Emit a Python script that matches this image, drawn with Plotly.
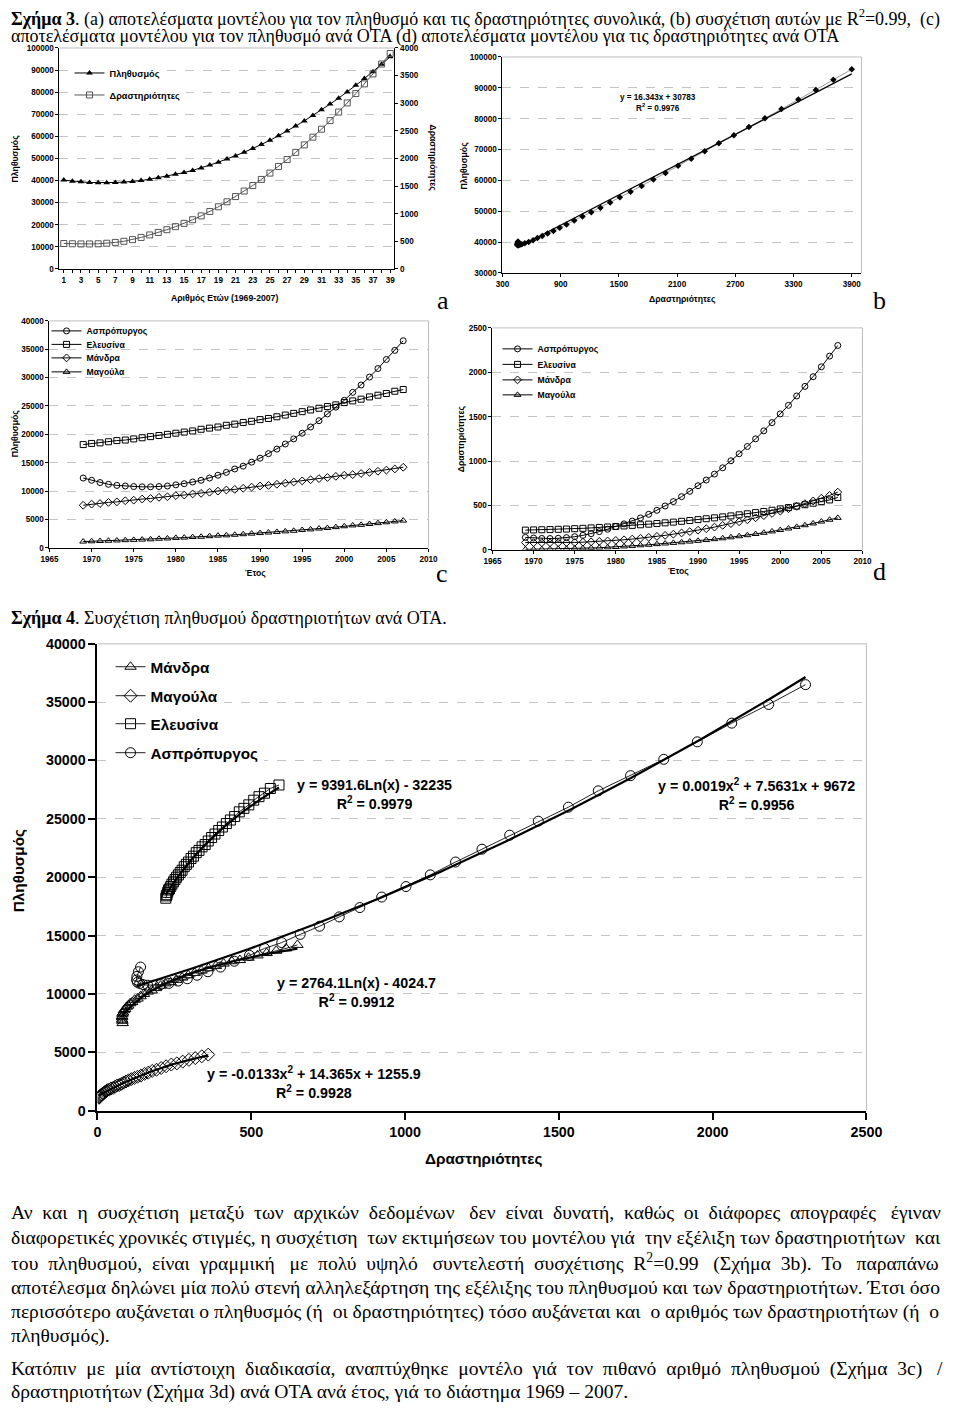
import numpy as np
import plotly.graph_objects as go

W, H = 960, 1412
# measured mapping between figure pixels and the photographed picture:
# picture_x = 8.5 + 0.974 * fig_x ; picture_y = 7 + 0.989 * fig_y
SX, OX, SY, OY = 0.974, 8.5, 0.989, 7.0
FS = 1.02          # font compensation for that slight shrink
SANS = "Liberation Sans, Arial, sans-serif"
SERIF = "Liberation Serif, Times New Roman, serif"
NBSP = "\u00a0"

# ------------------------------------------------------------------ data
# Fig. 3a / 3b : totals, year index 1..39 (1969-2007)
year_index = list(range(1, 40))
total_population = [40200, 39700, 39400, 39100, 39000, 39000, 39100, 39300, 39600, 40000,
                    40600, 41300, 42000, 42800, 43600, 44600, 45700, 47000, 48300, 49700,
                    51100, 52800, 54500, 56300, 58200, 60300, 62400, 64700, 67000, 69400,
                    72000, 74600, 77300, 80100, 83100, 86200, 89300, 92600, 96000]
total_activities = [460, 455, 452, 452, 455, 465, 480, 500, 530, 570,
                    615, 660, 710, 765, 825, 890, 960, 1040, 1125, 1215,
                    1310, 1410, 1510, 1620, 1735, 1855, 1980, 2110, 2245, 2385,
                    2530, 2685, 2840, 3005, 3175, 3350, 3530, 3710, 3900]
total_fit = [16.343, 30783]

# Fig. 3c / 3d : per municipality, 1969-2007
years = list(range(1969, 2008))
pop_aspropyrgos = [12300, 11900, 11500, 11200, 11000, 10900, 10800, 10750, 10750, 10800, 10900,
                   11100, 11300, 11600, 11900, 12300, 12800, 13300, 13900, 14400, 15100,
                   15800, 16600, 17400, 18300, 19200, 20200, 21300, 22400, 23600, 24800,
                   26000, 27400, 28700, 30100, 31600, 33200, 34800, 36500]
pop_elefsina = [18200, 18400, 18500, 18700, 18900, 19000, 19200, 19400, 19600, 19800, 20000,
                20200, 20400, 20600, 20900, 21100, 21300, 21600, 21800, 22100, 22300,
                22600, 22800, 23100, 23400, 23700, 24000, 24300, 24600, 24900, 25200,
                25600, 25900, 26200, 26600, 26900, 27200, 27600, 27900]
pop_mandra = [7500, 7700, 7800, 8000, 8100, 8300, 8400, 8600, 8700, 8900, 9000,
              9200, 9300, 9500, 9600, 9800, 10000, 10200, 10300, 10500, 10700,
              10900, 11000, 11200, 11400, 11600, 11800, 12000, 12200, 12400, 12600,
              12800, 12900, 13100, 13300, 13500, 13700, 13900, 14200]
pop_magoula = [1100, 1150, 1200, 1250, 1300, 1350, 1400, 1450, 1500, 1600, 1650,
               1750, 1800, 1900, 1950, 2050, 2150, 2200, 2300, 2400, 2500,
               2600, 2700, 2800, 2900, 3000, 3150, 3250, 3400, 3500, 3650,
               3800, 3950, 4050, 4200, 4350, 4500, 4650, 4800]

act_aspropyrgos = [140, 133, 128, 127, 130, 137, 148, 163, 182, 205, 232,
                   262, 292, 324, 359, 400, 445, 494, 543, 599, 659,
                   722, 786, 853, 924, 1003, 1082, 1164, 1250, 1340, 1433,
                   1531, 1628, 1733, 1841, 1950, 2062, 2182, 2302]
act_elefsina = [222, 224, 226, 228, 231, 234, 238, 242, 247, 252, 257,
                263, 269, 275, 282, 289, 296, 304, 312, 321, 330,
                340, 350, 360, 371, 382, 394, 406, 419, 432, 446,
                461, 476, 492, 508, 525, 543, 562, 590]
act_mandra = [82, 81, 80, 80, 80, 81, 83, 86, 90, 95, 100,
              106, 113, 121, 130, 140, 151, 163, 176, 190, 205,
              221, 238, 256, 275, 295, 316, 338, 361, 385, 410,
              436, 463, 491, 520, 550, 581, 613, 650]
act_magoula = [5, 6, 7, 8, 10, 12, 15, 18, 21, 24, 28,
               32, 38, 44, 51, 57, 64, 71, 78, 85, 93,
               101, 110, 120, 130, 141, 153, 165, 178, 192, 207,
               223, 240, 258, 277, 297, 318, 339, 360]

# Fig. 4 trend-line coefficients
fit_elefsina_log = [9391.6, -32235]
fit_mandra_log = [2764.1, -4024.7]
fit_aspropyrgos_quad = [0.0019, 7.5631, 9672]
fit_magoula_quad = [-0.0133, 14.365, 1255.9]

# ------------------------------------------------------------------ helpers
def fx(x):                       # picture x -> figure pixel x
    return min(max((x - OX) / SX, 0.0), W)


def fy(y):                       # picture y -> figure pixel y
    return min(max((y - OY) / SY, 0.0), H)


def px(x):
    return fx(x) / W


def py(y):
    return 1 - fy(y) / H


def xd(l, r):
    return [px(l), px(r)]


def yd(t, b):
    return [py(b), py(t)]


annotations = []
shapes = []


def add_text(text, x, y, size, family=SANS, bold=False, xanchor="center",
             yanchor="middle", angle=0, align="center", raw=False):
    xx = x / W if raw else px(x)
    yy = 1 - y / H if raw else py(y)
    annotations.append(dict(
        text=text, x=xx, y=yy, xref="paper", yref="paper",
        showarrow=False, xanchor=xanchor, yanchor=yanchor, textangle=angle,
        align=align, borderpad=0,
        font=dict(family=family, size=size, color="black",
                  weight="bold" if bold else "normal")))


def justify(line, n_extra):
    """spread n_extra non-breaking spaces over the word gaps of a line"""
    words = line.split(" ")
    gaps = len(words) - 1
    if gaps <= 0 or n_extra <= 0:
        return line
    out = words[0]
    for i, w in enumerate(words[1:]):
        k = (n_extra * (i + 1)) // gaps - (n_extra * i) // gaps
        out += " " + NBSP * k + w
    return out


def axis(domain, anchor, rng, size, dtick=None, tickvals=None, minorvals=None,
         grid=False, lw=1, ticklen=3, tickwidth=1, side=None, overlaying=None):
    d = dict(anchor=anchor, range=rng, showline=True, linecolor="black",
             linewidth=lw, ticks="outside", ticklen=ticklen, tickwidth=tickwidth,
             tickcolor="black", tickformat="d",
             tickfont=dict(family=SANS, size=size * FS, color="black", weight="bold"),
             showgrid=grid, gridcolor="#c4c4c4", griddash="dash", gridwidth=1,
             zeroline=False, fixedrange=True)
    if domain is not None:
        d["domain"] = domain
    if dtick is not None:
        d.update(tickmode="linear", tick0=rng[0], dtick=dtick)
    if tickvals is not None:
        d.update(tickmode="array", tickvals=tickvals)
    if minorvals is not None:
        d["minor"] = dict(tickmode="array", tickvals=minorvals, ticks="outside",
                          ticklen=ticklen, tickcolor="black", showgrid=False)
    if side:
        d["side"] = side
    if overlaying:
        d["overlaying"] = overlaying
    return d


def border(xl, xr, yt, yb, top=True, right=True):
    if top:
        shapes.append(dict(type="line", xref="paper", yref="paper",
                           x0=px(xl), x1=px(xr), y0=py(yt), y1=py(yt),
                           line=dict(color="#bdbdbd", width=1)))
    if right:
        shapes.append(dict(type="line", xref="paper", yref="paper",
                           x0=px(xr), x1=px(xr), y0=py(yb), y1=py(yt),
                           line=dict(color="#bdbdbd", width=1)))


def legend_box(text_x, y, size, bg="rgba(0,0,0,0)"):
    return dict(x=(fx(text_x) - 40) / W, y=py(y), xanchor="left", yanchor="middle",
                bgcolor=bg, borderwidth=0, tracegroupgap=0,
                font=dict(family=SANS, size=size * FS, color="black", weight="bold"))


fig = go.Figure()
layout = {}

# ------------------------------------------------------------------ Fig 3a
A = dict(l=59, r=394, t=47, b=268)
layout["xaxis"] = axis(xd(A["l"], A["r"]), "y", [0.5, 39.5], 8,
                       tickvals=[v for v in year_index if v % 2],
                       minorvals=[v for v in year_index if v % 2 == 0])
layout["yaxis"] = axis(yd(A["t"], A["b"]), "x", [0, 100000], 8, dtick=10000, grid=True)
layout["yaxis2"] = axis(None, "x", [0, 4000], 8, dtick=500, side="right", overlaying="y")
fig.add_trace(go.Scatter(x=year_index, y=total_population, xaxis="x", yaxis="y",
                         mode="lines+markers", name="Πληθυσμός", legend="legend",
                         line=dict(color="black", width=1),
                         marker=dict(symbol="triangle-up", size=6, color="black")))
fig.add_trace(go.Scatter(x=year_index, y=total_activities, xaxis="x", yaxis="y2",
                         mode="lines+markers", name="Δραστηριότητες", legend="legend2",
                         line=dict(color="#555555", width=1),
                         marker=dict(symbol="square-open", size=6, color="#555555",
                                     line=dict(width=1))))
layout["legend"] = legend_box(108, 72, 9, bg="white")
layout["legend2"] = legend_box(108, 94, 9, bg="white")
border(A["l"], A["r"], A["t"], A["b"], right=False)
add_text("Πληθυσμός", 14, 157, 8.5 * FS, bold=True, angle=-90)
add_text("Δραστηριότητες", 433, 157, 8.5 * FS, bold=True, angle=90)
add_text("Αριθμός Ετών (1969-2007)", 224, 297, 8.5 * FS, bold=True)
add_text("a", 443, 300, 26, family=SERIF)

# ------------------------------------------------------------------ Fig 3b
B = dict(l=502, r=861, t=56, b=272)
layout["xaxis2"] = axis(xd(B["l"], B["r"]), "y3", [300, 4000], 8, dtick=600)
layout["yaxis3"] = axis(yd(B["t"], B["b"]), "x2", [30000, 100000], 8, dtick=10000, grid=True)
fig.add_trace(go.Scatter(x=total_activities, y=total_population, xaxis="x2", yaxis="y3",
                         mode="lines+markers", showlegend=False,
                         line=dict(color="#9a9a9a", width=1),
                         marker=dict(symbol="diamond", size=5, color="black")))
bx = np.array([min(total_activities), max(total_activities)], dtype=float)
fig.add_trace(go.Scatter(x=bx, y=total_fit[0] * bx + total_fit[1], xaxis="x2", yaxis="y3",
                         mode="lines", showlegend=False, line=dict(color="black", width=1.2)))
border(B["l"], B["r"], B["t"], B["b"])
add_text("y = 16.343x + 30783<br>R<sup>2</sup> = 0.9976", 658, 102, 8 * FS, bold=True)
add_text("Πληθυσμός", 463, 164, 8.5 * FS, bold=True, angle=-90)
add_text("Δραστηριότητες", 682, 298, 8.5 * FS, bold=True)
add_text("b", 879, 300, 26, family=SERIF)

# ------------------------------------------------------------------ Fig 3c
C = dict(l=49, r=428, t=320, b=547)
layout["xaxis3"] = axis(xd(C["l"], C["r"]), "y4", [1965, 2010], 8, dtick=5)
layout["yaxis4"] = axis(yd(C["t"], C["b"]), "x3", [0, 40000], 8, dtick=5000, grid=True)
series_c = [("Ασπρόπυργος", pop_aspropyrgos, "circle-open", "legend3", 330),
            ("Ελευσίνα", pop_elefsina, "square-open", "legend4", 343.5),
            ("Μάνδρα", pop_mandra, "diamond-open", "legend5", 357),
            ("Μαγούλα", pop_magoula, "triangle-up-open", "legend6", 371)]
for name, vals, sym, leg, ly in series_c:
    fig.add_trace(go.Scatter(x=years, y=vals, xaxis="x3", yaxis="y4", mode="lines+markers",
                             name=name, legend=leg, line=dict(color="black", width=1),
                             marker=dict(symbol=sym, size=6, color="black", line=dict(width=1))))
    layout[leg] = legend_box(85, ly, 8.5)
border(C["l"], C["r"], C["t"], C["b"])
add_text("Πληθυσμός", 14, 432, 8.5 * FS, bold=True, angle=-90)
add_text("Έτος", 255, 572, 8.5 * FS, bold=True)
add_text("c", 442, 573, 26, family=SERIF)

# ------------------------------------------------------------------ Fig 3d
D = dict(l=492, r=862, t=327, b=549)
layout["xaxis4"] = axis(xd(D["l"], D["r"]), "y5", [1965, 2010], 8, dtick=5)
layout["yaxis5"] = axis(yd(D["t"], D["b"]), "x4", [0, 2500], 8, dtick=500, grid=True)
series_d = [("Ασπρόπυργος", act_aspropyrgos, "circle-open", "legend7", 348),
            ("Ελευσίνα", act_elefsina, "square-open", "legend8", 363.5),
            ("Μάνδρα", act_mandra, "diamond-open", "legend9", 379),
            ("Μαγούλα", act_magoula, "triangle-up-open", "legend10", 394)]
for name, vals, sym, leg, ly in series_d:
    fig.add_trace(go.Scatter(x=years, y=vals, xaxis="x4", yaxis="y5", mode="lines+markers",
                             name=name, legend=leg, line=dict(color="black", width=1),
                             marker=dict(symbol=sym, size=6, color="black", line=dict(width=1))))
    layout[leg] = legend_box(536, ly, 8.5)
border(D["l"], D["r"], D["t"], D["b"])
add_text("Δραστηριότητες", 460, 438, 8.5 * FS, bold=True, angle=-90)
add_text("Έτος", 678, 570, 8.5 * FS, bold=True)
add_text("d", 879, 571, 26, family=SERIF)

# ------------------------------------------------------------------ Fig 4
E = dict(l=97, r=866, t=643, b=1110)
layout["xaxis5"] = axis(xd(E["l"], E["r"]), "y6", [0, 2500], 14, dtick=500,
                        lw=2, ticklen=7, tickwidth=2)
layout["yaxis6"] = axis(yd(E["t"], E["b"]), "x5", [0, 40000], 14, dtick=5000, grid=True,
                        lw=2, ticklen=7, tickwidth=2)
series_4 = [("Μάνδρα", act_mandra, pop_mandra, "triangle-up-open", "legend11", 666),
            ("Μαγούλα", act_magoula, pop_magoula, "diamond-open", "legend12", 695),
            ("Ελευσίνα", act_elefsina, pop_elefsina, "square-open", "legend13", 723),
            ("Ασπρόπυργος", act_aspropyrgos, pop_aspropyrgos, "circle-open", "legend14", 752)]
for name, xs, ys, sym, leg, ly in series_4:
    fig.add_trace(go.Scatter(x=xs, y=ys, xaxis="x5", yaxis="y6", mode="lines+markers",
                             name=name, legend=leg, line=dict(color="#222222", width=1),
                             marker=dict(symbol=sym, size=10, color="black", line=dict(width=1))))
    layout[leg] = legend_box(149, ly, 15, bg="white")


def trend(xs_data, kind, coef):
    x = np.linspace(min(xs_data), max(xs_data), 150)
    if kind == "log":
        y = coef[0] * np.log(x) + coef[1]
    else:
        y = coef[0] * x ** 2 + coef[1] * x + coef[2]
    fig.add_trace(go.Scatter(x=x, y=y, xaxis="x5", yaxis="y6", mode="lines",
                             showlegend=False, hoverinfo="skip",
                             line=dict(color="black", width=2.2)))


trend(act_elefsina, "log", fit_elefsina_log)
trend(act_mandra, "log", fit_mandra_log)
trend(act_aspropyrgos, "quad", fit_aspropyrgos_quad)
trend(act_magoula, "quad", fit_magoula_quad)
border(E["l"], E["r"], E["t"], E["b"])
add_text("y = 9391.6Ln(x) - 32235<br>R<sup>2</sup> = 0.9979", 374, 794, 14 * FS, bold=True)
add_text("y = 0.0019x<sup>2</sup> + 7.5631x + 9672<br>R<sup>2</sup> = 0.9956", 756, 794, 14 * FS, bold=True)
add_text("y = 2764.1Ln(x) - 4024.7<br>R<sup>2</sup> = 0.9912", 356, 992, 14 * FS, bold=True)
add_text("y = -0.0133x<sup>2</sup> + 14.365x + 1255.9<br>R<sup>2</sup> = 0.9928", 314, 1082, 14 * FS, bold=True)
add_text("Πληθυσμός", 18, 870, 15 * FS, bold=True, angle=-90)
add_text("Δραστηριότητες", 483, 1158, 15 * FS, bold=True)

# ------------------------------------------------------------------ document text
cap1 = ("<b>Σχήμα 3</b>. (a) αποτελέσματα μοντέλου για τον πληθυσμό και τις δραστηριότητες "
        "συνολικά, (b) συσχέτιση αυτών με R<sup>2</sup>=0.99, (c)")
add_text(justify(cap1, 1), 1, 10, 18, family=SERIF, xanchor="left", raw=True)
add_text("αποτελέσματα μοντέλου για τον πληθυσμό ανά ΟΤΑ (d) αποτελέσματα μοντέλου για "
         "τις δραστηριότητες ανά ΟΤΑ", 1, 28.5, 18, family=SERIF, xanchor="left", raw=True)
add_text("<b>Σχήμα 4</b>. Συσχέτιση πληθυσμού δραστηριοτήτων ανά ΟΤΑ.", 1, fy(617), 18,
         family=SERIF, xanchor="left", raw=True)

para_lines = [
    "Αν και η συσχέτιση μεταξύ των αρχικών δεδομένων δεν είναι δυνατή, καθώς οι διάφορες απογραφές έγιναν",
    "διαφορετικές χρονικές στιγμές, η συσχέτιση των εκτιμήσεων του μοντέλου γιά την εξέλιξη των δραστηριοτήτων και",
    "του πληθυσμού, είναι γραμμική με πολύ υψηλό συντελεστή συσχέτισης R<sup>2</sup>=0.99 (Σχήμα 3b). Το παραπάνω",
    "αποτέλεσμα δηλώνει μία πολύ στενή αλληλεξάρτηση της εξέλιξης του πληθυσμού και των δραστηριοτήτων. Έτσι όσο",
    "περισσότερο αυξάνεται ο πληθυσμός (ή οι δραστηριότητες) τόσο αυξάνεται και ο αριθμός των δραστηριοτήτων (ή ο",
    "πληθυσμός).",
    "Κατόπιν με μία αντίστοιχη διαδικασία, αναπτύχθηκε μοντέλο γιά τον πιθανό αριθμό πληθυσμού (Σχήμα 3c) /",
    "δραστηριοτήτων (Σχήμα 3d) ανά ΟΤΑ ανά έτος, γιά το διάστημα 1969 – 2007.",
]
para_extra = [17, 3, 17, 0, 3, 0, 15, 0]
para_y = [fy(1212), fy(1237), fy(1262), fy(1287), fy(1311), fy(1335), 1377, 1400]
for line, n, y in zip(para_lines, para_extra, para_y):
    add_text(justify(line, n), 1, y, 19.6, family=SERIF, xanchor="left", raw=True)

layout.update(width=W, height=H, margin=dict(l=0, r=0, t=0, b=0),
              paper_bgcolor="white", plot_bgcolor="white", showlegend=True,
              annotations=annotations, shapes=shapes, hovermode=False)
fig.update_layout(**layout)
fig.write_html("out.html", config={"displayModeBar": False},
               post_script="document.documentElement.style.margin='0px';"
                           "document.body.style.margin='0px';"
                           "document.body.style.padding='0px';")
